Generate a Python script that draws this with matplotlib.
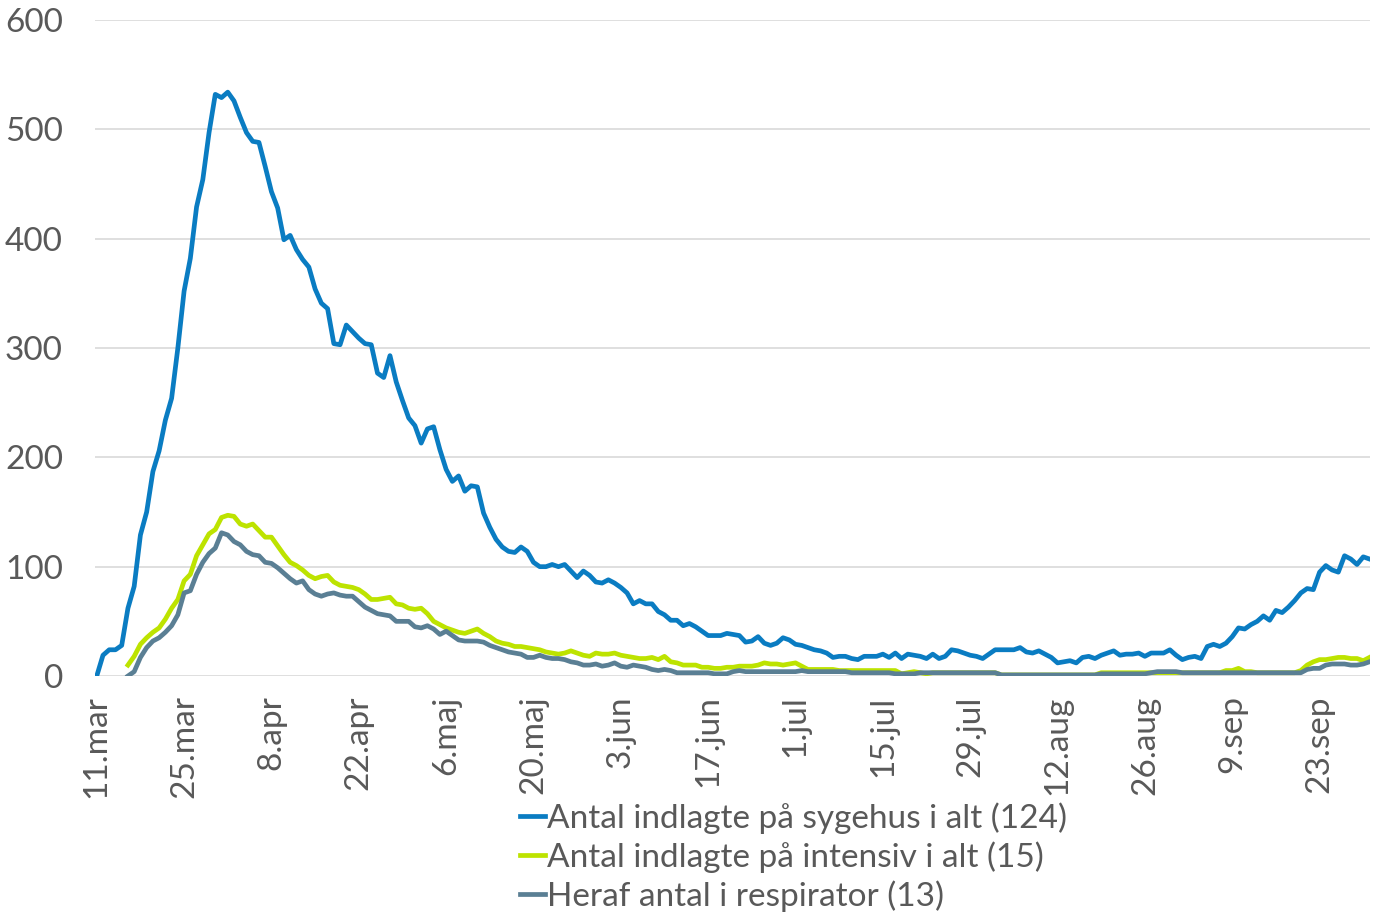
import numpy as np
import matplotlib
matplotlib.use("Agg")
import matplotlib.pyplot as plt

nan = np.nan

# days since 11.mar (one value per day)
sygehus = [
    0, 19, 24, 24, 28, 62, 82, 129, 150, 187,
    206, 234, 254, 300, 352, 382, 429, 454, 497, 532,
    529, 534, 526, 511, 497, 489, 488, 466, 443, 428,
    399, 403, 390, 381, 374, 354, 341, 336, 304, 303,
    321, 315, 309, 304, 303, 277, 273, 293, 269, 252,
    236, 229, 213, 226, 228, 207, 189, 178, 183, 169,
    174, 173, 149, 136, 125, 118, 114, 113, 118, 114,
    104, 100, 100, 102, 100, 102, 96, 90, 96, 92,
    86, 85, 88, 85, 81, 76, 66, 69, 66, 66,
    59, 56, 51, 51, 46, 48, 45, 41, 37, 37,
    37, 39, 38, 37, 31, 32, 36, 30, 28, 30,
    35, 33, 29, 28, 26, 24, 23, 21, 17, 18,
    18, 16, 15, 18, 18, 18, 20, 17, 21, 16,
    20, 19, 18, 16, 20, 16, 18, 24, 23, 21,
    19, 18, 16, 20, 24, 24, 24, 24, 26, 22,
    21, 23, 20, 17, 12, 13, 14, 12, 17, 18,
    16, 19, 21, 23, 19, 20, 20, 21, 18, 21,
    21, 21, 24, 19, 15, 17, 18, 16, 27, 29,
    27, 30, 36, 44, 43, 47, 50, 55, 51, 60,
    58, 63, 69, 76, 80, 79, 95, 101, 97, 95,
    110, 107, 102, 109, 107,
]

intensiv = [
    nan, nan, nan, nan, nan, 10, 18, 29, 35, 40,
    44, 52, 62, 70, 87, 93, 110, 120, 130, 134,
    145, 147, 146, 139, 137, 139, 133, 127, 127, 119,
    111, 104, 101, 97, 92, 89, 91, 92, 86, 83,
    82, 81, 79, 75, 70, 70, 71, 72, 66, 65,
    62, 61, 62, 57, 50, 47, 44, 42, 40, 39,
    41, 43, 39, 36, 32, 30, 29, 27, 27, 26,
    25, 24, 22, 21, 20, 21, 23, 21, 19, 18,
    21, 20, 20, 21, 19, 18, 17, 16, 16, 17,
    15, 18, 13, 12, 10, 10, 10, 8, 8, 7,
    7, 8, 8, 9, 9, 9, 10, 12, 11, 11,
    10, 11, 12, 9, 6, 6, 6, 6, 6, 5,
    5, 5, 5, 5, 5, 5, 5, 5, 5, 2,
    3, 4, 3, 2, 3, 3, 3, 3, 3, 3,
    3, 3, 3, 3, 3, 1, 1, 1, 1, 1,
    1, 1, 1, 1, 1, 1, 1, 1, 1, 1,
    1, 3, 3, 3, 3, 3, 3, 3, 3, 3,
    3, 3, 3, 3, 3, 3, 3, 3, 3, 3,
    3, 5, 5, 7, 4, 4, 3, 3, 3, 3,
    3, 3, 3, 5, 10, 13, 15, 15, 16, 17,
    17, 16, 16, 14, 17,
]

respirator = [
    nan, nan, nan, nan, nan, 0, 4, 17, 26, 32,
    35, 40, 46, 56, 76, 78, 93, 104, 112, 117,
    131, 129, 123, 120, 114, 111, 110, 104, 103, 99,
    94, 89, 85, 87, 79, 75, 73, 75, 76, 74,
    73, 73, 68, 63, 60, 57, 56, 55, 50, 50,
    50, 45, 44, 46, 43, 38, 41, 37, 33, 32,
    32, 32, 31, 28, 26, 24, 22, 21, 20, 17,
    17, 19, 17, 16, 16, 15, 13, 12, 10, 10,
    11, 9, 10, 12, 9, 8, 10, 9, 8, 6,
    5, 6, 5, 3, 3, 3, 3, 3, 3, 2,
    2, 2, 4, 5, 4, 4, 4, 4, 4, 4,
    4, 4, 4, 5, 4, 4, 4, 4, 4, 4,
    4, 3, 3, 3, 3, 3, 3, 3, 2, 2,
    2, 2, 3, 3, 3, 3, 3, 3, 3, 3,
    3, 3, 3, 3, 3, 1, 1, 1, 1, 1,
    1, 1, 1, 1, 1, 1, 1, 1, 1, 1,
    1, 2, 2, 2, 2, 2, 2, 2, 2, 3,
    4, 4, 4, 4, 3, 3, 3, 3, 3, 3,
    3, 3, 3, 3, 3, 3, 3, 3, 3, 3,
    3, 3, 3, 3, 6, 7, 7, 10, 11, 11,
    11, 10, 10, 11, 13,
]

tick_labels = ['11.mar', '25.mar', '8.apr', '22.apr', '6.maj', '20.maj', '3.jun',
               '17.jun', '1.jul', '15.jul', '29.jul', '12.aug', '26.aug', '9.sep', '23.sep']

series_labels = ['Antal indlagte på sygehus i alt (124)',
                 'Antal indlagte på intensiv i alt (15)',
                 'Heraf antal i respirator (13)']

days = np.arange(len(sygehus))

plt.rcParams['font.family'] = ['Lato', 'DejaVu Sans']
text_col = '#595959'

fig = plt.figure(figsize=(13.75, 9.17), dpi=100)
ax = fig.add_axes([0.069, 0.2628, 0.927, 0.7154])

ax.plot(days, sygehus, color='#0a7cc2', lw=3.4, label=series_labels[0])
ax.plot(days, intensiv, color='#bde300', lw=3.4, label=series_labels[1])
ax.plot(days, respirator, color='#5a7f94', lw=3.4, label=series_labels[2])

ax.set_ylim(0, 600)
ax.set_yticks(range(0, 601, 100))
ax.set_xlim(-0.3, len(sygehus) - 1)
ax.set_xticks(np.arange(0, 14 * len(tick_labels), 14))
ax.set_xticklabels(tick_labels, rotation=90)

ax.grid(axis='y', color='#d9d9d9', lw=1.2)
ax.set_axisbelow(True)
for s in ax.spines.values():
    s.set_visible(False)
ax.tick_params(axis='both', length=0, labelsize=24, colors=text_col)
ax.tick_params(axis='y', pad=23)
ax.tick_params(axis='x', pad=14)

leg = fig.legend(loc='upper left', bbox_to_anchor=(0.366, 0.143), frameon=False,
                 fontsize=24, handlelength=0.75, handletextpad=0.05,
                 labelspacing=0.22, borderpad=0, labelcolor=text_col)

fig.savefig('out.png', dpi=100)
